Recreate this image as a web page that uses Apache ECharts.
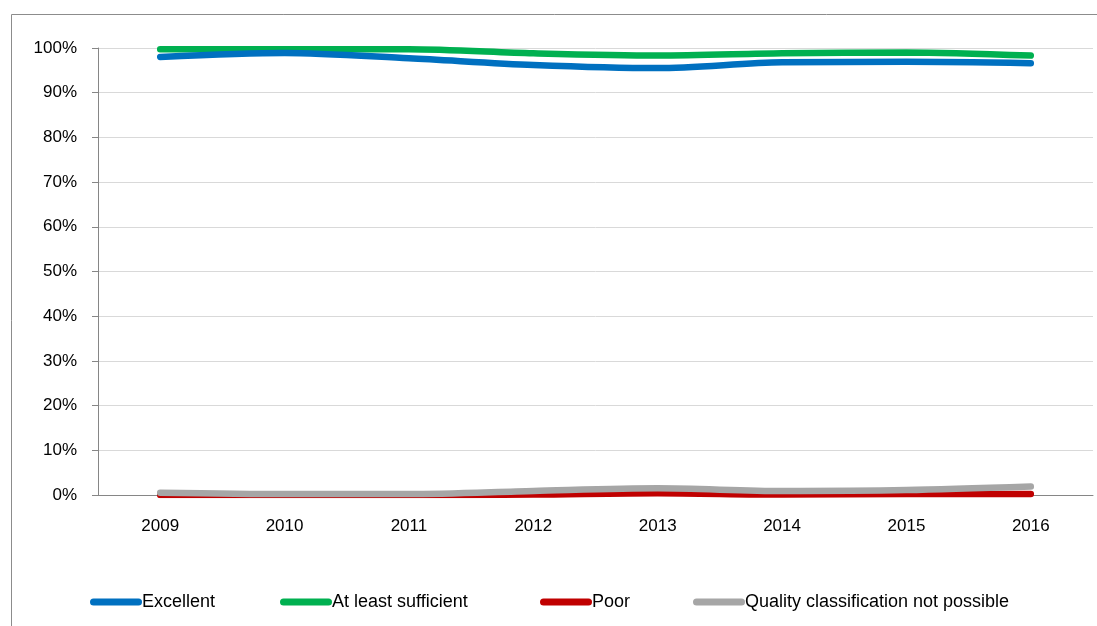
<!DOCTYPE html>
<html lang="en">
<head>
	<meta charset="UTF-8">
	<title>Bathing water quality</title>
	<script src="https://cdn.jsdelivr.net/npm/echarts@6/dist/echarts.min.js"></script>
	<style>
		html,body{margin:0;width:100%;height:100%;background:#fff;}
		#chart{width:1097px;height:626px;}
	</style>
</head>
<body>
	<div id="chart"></div>
<script>
	var years = ['2009', '2010', '2011', '2012', '2013', '2014', '2015', '2016'];
	var excellent = [98.0, 98.9, 97.7, 96.2, 95.5, 96.8, 96.9, 96.6];
	var sufficient = [99.7, 99.7, 99.7, 98.8, 98.3, 98.8, 99.0, 98.3];
	var poor = [0.0, 0.0, 0.0, 0.1, 0.4, 0.1, 0.2, 0.2];
	var notPossible = [0.5, 0.2, 0.2, 0.9, 1.5, 0.9, 1.1, 1.9];

	var names = ['Excellent', 'At least sufficient', 'Poor', 'Quality classification not possible'];
	var colors = ['#0070c0', '#00b050', '#c00000', '#a6a6a6'];
	var legendLeft = [85, 275, 535, 688];

	var myChart = echarts.init(document.getElementById('chart'));

	function line(name, data, color, z) {
		return {
			name: name,
			type: 'line',
			data: data,
			smooth: 0.3,
			symbol: 'none',
			z: z,
			lineStyle: { width: 6.5, color: color, cap: 'round' },
			itemStyle: { color: color }
		};
	}

	// capsule shaped legend marker, like the original
	var capsule = 'path://M3.5,0 H48.5 A3.5,3.5 0 0 1 48.5,7 H3.5 A3.5,3.5 0 0 1 3.5,0 Z';

	var legends = [];
	for (var i = 0; i < names.length; i++) {
		legends.push({
			data: [names[i]],
			left: legendLeft[i],
			top: 588,
			icon: capsule,
			itemWidth: 52,
			itemHeight: 7,
			itemGap: 0,
			textStyle: { fontFamily: 'Liberation Sans', fontSize: 18, color: '#000', padding: [0, 0, 0, -5] }
		});
	}

	myChart.setOption({
		animation: false,
		// chart frame
		graphic: [{
			type: 'rect',
			left: 9,
			top: 12,
			shape: { width: 1100, height: 640 },
			style: { fill: 'none', stroke: '#8c8c8c', lineWidth: 1 },
			z: -1
		}],
		grid: { left: 98, top: 48, right: 4, bottom: 131 },
		legend: legends,
		xAxis: {
			type: 'category',
			data: years,
			boundaryGap: true,
			axisLine: { lineStyle: { color: '#868686' } },
			axisTick: { length: 6, lineStyle: { color: '#868686' } },
			axisLabel: { color: '#000', fontSize: 17, margin: 23, fontFamily: 'Liberation Sans' }
		},
		yAxis: {
			type: 'value',
			min: 0,
			max: 100,
			interval: 10,
			axisLine: { show: true, lineStyle: { color: '#868686' } },
			axisTick: { show: true, length: 6, lineStyle: { color: '#868686' } },
			axisLabel: { formatter: '{value}%', color: '#000', fontSize: 17, margin: 21, fontFamily: 'Liberation Sans' },
			splitLine: { lineStyle: { color: '#d9d9d9' } }
		},
		series: [
			line(names[2], poor, colors[2], 2),
			line(names[3], notPossible, colors[3], 3),
			line(names[1], sufficient, colors[1], 2),
			line(names[0], excellent, colors[0], 3)
		]
	});
</script>
</body>
</html>
